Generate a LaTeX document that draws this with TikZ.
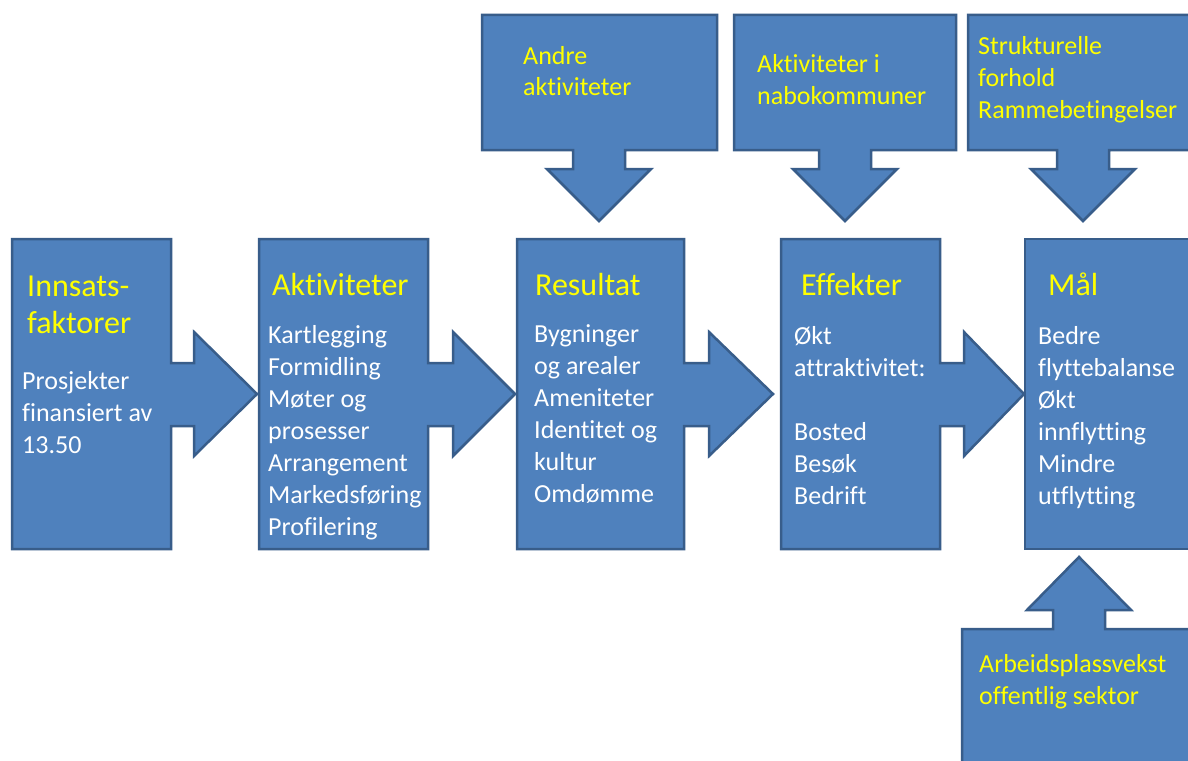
\documentclass[tikz,border=0pt]{standalone}
\usepackage{fontspec}
\setmainfont{Carlito}[Ligatures={NoCommon,NoContextual}]
\definecolor{boxblue}{HTML}{4F81BD}
\definecolor{boxedge}{HTML}{385D8A}
\definecolor{titleyellow}{HTML}{FFFF00}
\tikzset{
  callout/.style={fill=boxblue, draw=boxedge, line width=2.5pt, line join=miter},
  title/.style={anchor=base west, inner sep=0pt, text=titleyellow, font=\fontsize{32}{37}\selectfont},
  body/.style={anchor=base west, inner sep=0pt, text=white, font=\fontsize{26}{32}\selectfont},
  outside/.style={body, text=titleyellow},
}
\newcommand{\rows}[1]{\begin{tabular}[t]{@{}l@{}}#1\end{tabular}}
% box with an arrow to the right: left x, right x, head base x, tip x
\newcommand{\boxright}[4]{%
  \draw[callout] (#1,239) -- (#2,239) -- (#2,363) -- (#3,363) -- (#3,332)
    -- (#4,394) -- (#3,456) -- (#3,426) -- (#2,426) -- (#2,549) -- (#1,549) -- cycle;}
% box with an arrow downwards: left x, right x, arrow x
\newcommand{\boxdown}[3]{%
  \draw[callout] (#1,15) -- (#2,15) -- (#2,150) -- ({#3+26},150) -- ({#3+26},169)
    -- ({#3+52},169) -- (#3,221) -- ({#3-52},169) -- ({#3-26},169) -- ({#3-26},150)
    -- (#1,150) -- cycle;}
\begin{document}
\begin{tikzpicture}[x=1pt, y=-1pt]
\clip (0,0) rectangle (1188,760);
\fill[white] (0,0) rectangle (1188,760);

% main chain
\boxright{12}{171}{194}{257}
\boxright{259}{428}{453}{515}
\boxright{517}{684}{709}{773}
\boxright{781}{940}{964}{1024}
\draw[callout] (1025,239) rectangle (1200,549);

% outside factors
\boxdown{482}{717}{599}
\boxdown{734}{956}{845}
\boxdown{968}{1200}{1083}
\draw[callout] (962,780) -- (962,629) -- (1053,629) -- (1053,610) -- (1027,610)
  -- (1079,557) -- (1131,610) -- (1105,610) -- (1105,629) -- (1200,629) -- (1200,780) -- cycle;

\node[title] (innsats) at (27,296) {\rows{Innsats-\\faktorer}};
\node[body] (innsatsbody) at (22,389) {\rows{Prosjekter\\finansiert av\\13.50}};

\node[title] (aktiviteter) at (272,295) {Aktiviteter};
\node[body] (aktiviteterbody) at (268,343) {\rows{Kartlegging\\Formidling\\Møter og\\prosesser\\Arrangement\\Markedsføring\\Profilering}};

\node[title] (resultat) at (535,295) {Resultat};
\node[body] (resultatbody) at (534,342) {\rows{Bygninger\\og arealer\\Ameniteter\\Identitet og\\kultur\\Omdømme}};

\node[title] (effekter) at (801,295) {Effekter};
\node[body] (effekterbody) at (794,344) {\rows{Økt\\attraktivitet:\\[32pt]Bosted\\Besøk\\Bedrift}};

\node[title] (maal) at (1048,295) {Mål};
\node[body] (maalbody) at (1038,344) {\rows{Bedre\\flyttebalanse\\Økt\\innflytting\\Mindre\\utflytting}};

\node[outside] (andre) at (523,64) {\rows{Andre\\aktiviteter}};
\node[outside] (nabo) at (757,73) {\rows{Aktiviteter i\\nabokommuner}};
\node[outside] (struktur) at (978,55) {\rows{Strukturelle\\forhold\\Rammebetingelser}};
\node[outside] (arbeid) at (979,672) {\rows{Arbeidsplassvekst\\offentlig sektor}};
\end{tikzpicture}
\end{document}
